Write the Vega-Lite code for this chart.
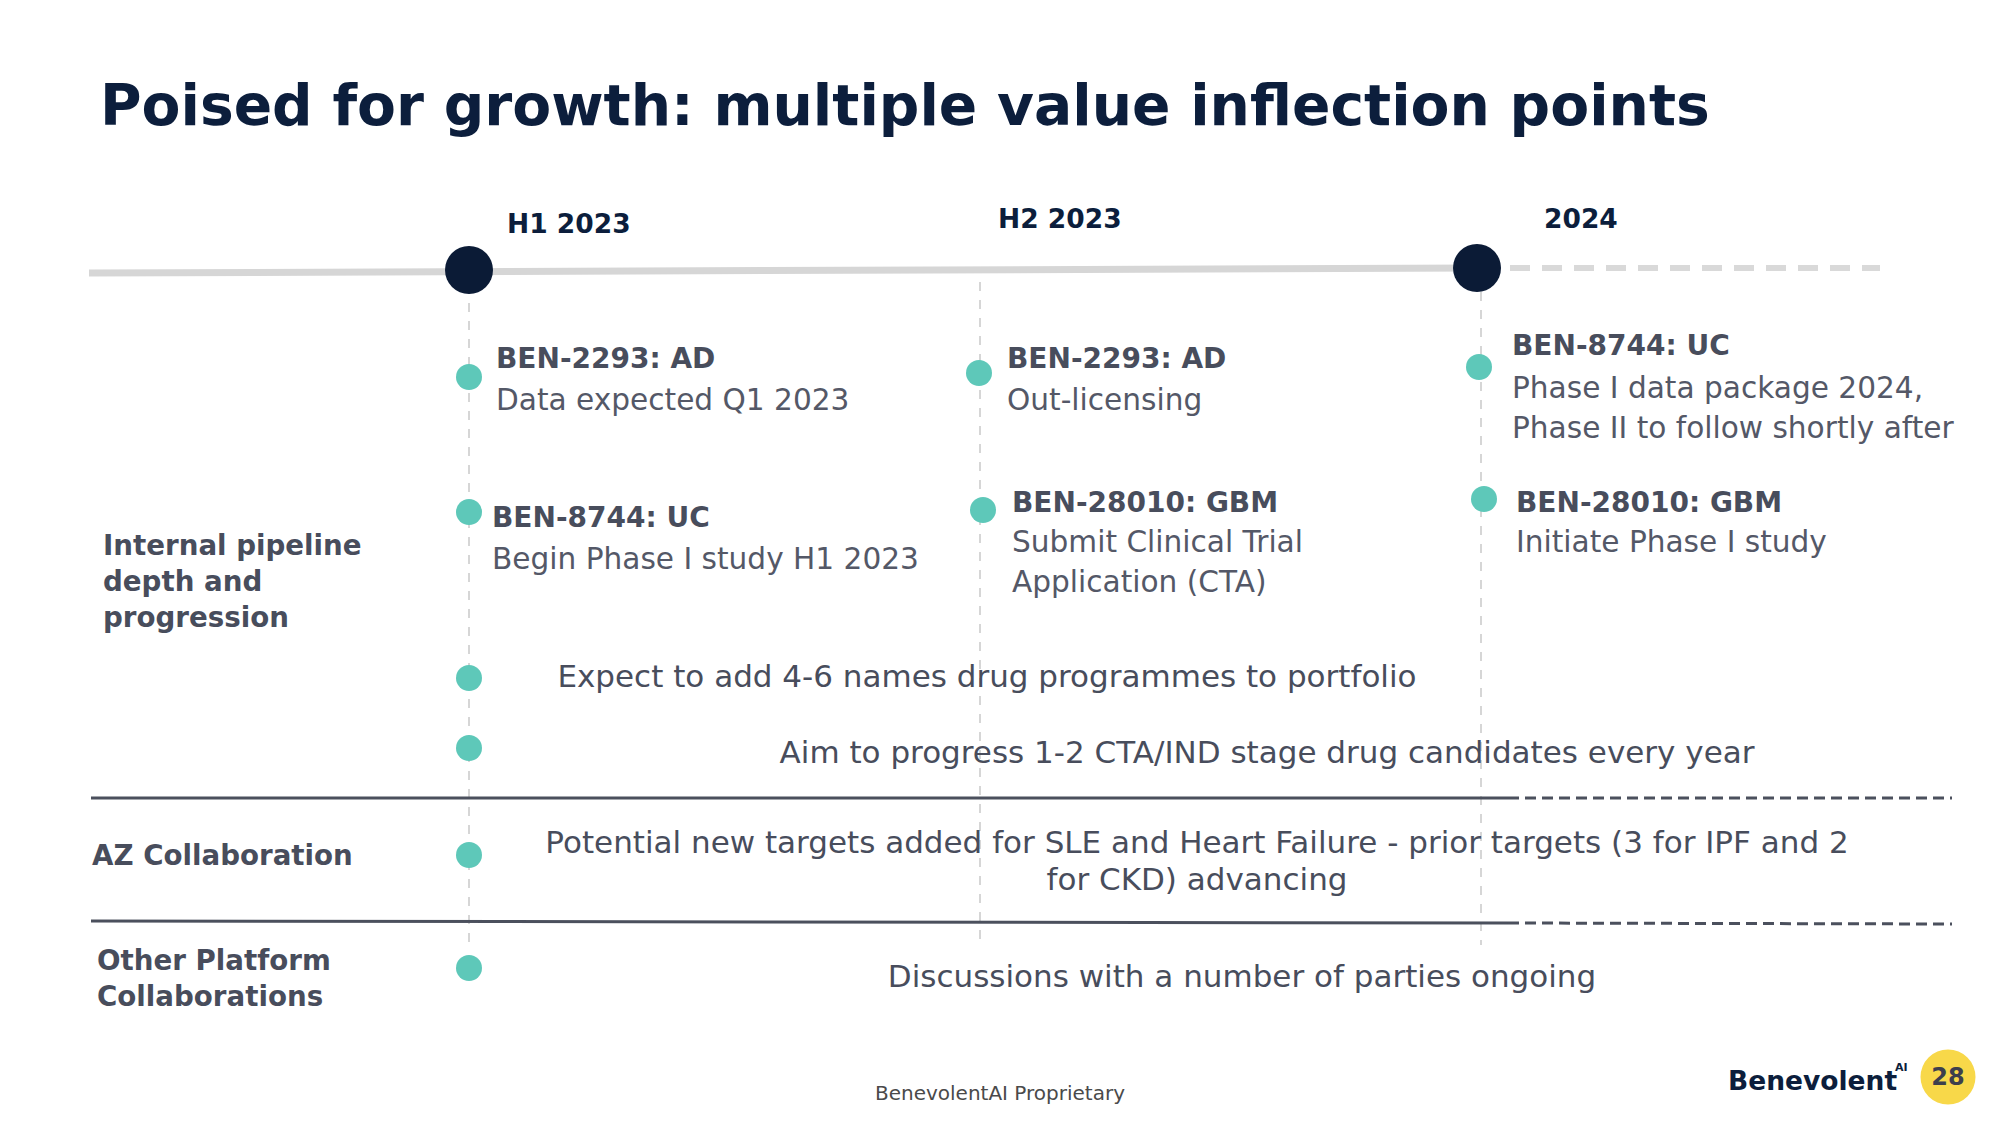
{
  "$schema": "https://vega.github.io/schema/vega-lite/v6.json",
  "width": 2000,
  "height": 1125,
  "autosize": {"type": "fit", "contains": "padding"},
  "padding": 0,
  "background": "#ffffff",
  "config": {"view": {"stroke": null}},
  "datasets": {
    "segments": [
      {"kind": "timeline", "x": 89, "y": 273, "x2": 1477, "y2": 268},
      {"kind": "timeline_future", "x": 1510, "y": 268, "x2": 1880, "y2": 268},
      {"kind": "guide", "x": 469, "y": 285, "x2": 469, "y2": 948},
      {"kind": "guide", "x": 980, "y": 282, "x2": 980, "y2": 945},
      {"kind": "guide", "x": 1481, "y": 292, "x2": 1481, "y2": 945},
      {"kind": "separator", "x": 91, "y": 798, "x2": 1508, "y2": 798},
      {"kind": "separator_future", "x": 1508, "y": 798, "x2": 1952, "y2": 798},
      {"kind": "separator", "x": 91, "y": 921, "x2": 1508, "y2": 923},
      {"kind": "separator_future", "x": 1508, "y": 923, "x2": 1952, "y2": 924}
    ],
    "milestones": [
      {"period": "H1 2023", "x": 469, "y": 270},
      {"period": "2024", "x": 1477, "y": 268}
    ],
    "dots": [
      {"item": "H1 BEN-2293", "x": 469, "y": 377},
      {"item": "H1 BEN-8744", "x": 469, "y": 512},
      {"item": "H2 BEN-2293", "x": 979, "y": 373},
      {"item": "H2 BEN-28010", "x": 983, "y": 510},
      {"item": "2024 BEN-8744", "x": 1479, "y": 367},
      {"item": "2024 BEN-28010", "x": 1484, "y": 499},
      {"item": "Portfolio", "x": 469, "y": 678},
      {"item": "CTA/IND", "x": 469, "y": 748},
      {"item": "AZ", "x": 469, "y": 855},
      {"item": "Other", "x": 469, "y": 968}
    ],
    "texts": [
      {"kind": "title", "x": 100, "y": 125, "text": "Poised for growth: multiple value inflection points"},
      {"kind": "period", "x": 507, "y": 233, "text": "H1 2023"},
      {"kind": "period", "x": 998, "y": 228, "text": "H2 2023"},
      {"kind": "period", "x": 1544, "y": 228, "text": "2024"},
      {"kind": "drug", "x": 496, "y": 368, "text": "BEN-2293: AD"},
      {"kind": "drug", "x": 492, "y": 527, "text": "BEN-8744: UC"},
      {"kind": "drug", "x": 1007, "y": 368, "text": "BEN-2293: AD"},
      {"kind": "drug", "x": 1012, "y": 512, "text": "BEN-28010: GBM"},
      {"kind": "drug", "x": 1512, "y": 355, "text": "BEN-8744: UC"},
      {"kind": "drug", "x": 1516, "y": 512, "text": "BEN-28010: GBM"},
      {"kind": "desc", "x": 496, "y": 410, "text": "Data expected Q1 2023"},
      {"kind": "desc", "x": 492, "y": 569, "text": "Begin Phase I study H1 2023"},
      {"kind": "desc", "x": 1007, "y": 410, "text": "Out-licensing"},
      {"kind": "desc", "x": 1012, "y": 552, "text": "Submit Clinical Trial\nApplication (CTA)"},
      {"kind": "desc", "x": 1512, "y": 398, "text": "Phase I data package 2024,\nPhase II to follow shortly after"},
      {"kind": "desc", "x": 1516, "y": 552, "text": "Initiate Phase I study"},
      {"kind": "row", "x": 103, "y": 555, "text": "Internal pipeline\ndepth and\nprogression"},
      {"kind": "row", "x": 92, "y": 865, "text": "AZ Collaboration"},
      {"kind": "row", "x": 97, "y": 970, "text": "Other Platform\nCollaborations"},
      {"kind": "note", "x": 987, "y": 687, "text": "Expect to add 4-6 names drug programmes to portfolio"},
      {"kind": "note", "x": 1267, "y": 763, "text": "Aim to progress 1-2 CTA/IND stage drug candidates every year"},
      {"kind": "note", "x": 1197, "y": 853, "text": "Potential new targets added for SLE and Heart Failure - prior targets (3 for IPF and 2\nfor CKD) advancing"},
      {"kind": "note", "x": 1242, "y": 987, "text": "Discussions with a number of parties ongoing"},
      {"kind": "footer", "x": 1000, "y": 1100, "text": "BenevolentAI Proprietary"},
      {"kind": "logo", "x": 1728, "y": 1090, "text": "Benevolent"},
      {"kind": "logo_sup", "x": 1895, "y": 1071, "text": "AI"},
      {"kind": "page", "x": 1948, "y": 1078, "text": "28"}
    ],
    "badge": [{"page": 28, "x": 1948, "y": 1077}]
  },
  "encoding": {
    "x": {"field": "x", "type": "quantitative", "scale": {"domain": [0, 2000], "nice": false, "zero": false}, "axis": null},
    "y": {"field": "y", "type": "quantitative", "scale": {"domain": [0, 1125], "nice": false, "zero": false, "reverse": true}, "axis": null}
  },
  "layer": [
    {
      "data": {"name": "segments"},
      "transform": [{"filter": "datum.kind == 'guide'"}],
      "mark": {"type": "rule", "color": "#c9c9c9", "strokeWidth": 1.5, "strokeDash": [9, 9]},
      "encoding": {"x2": {"field": "x2"}, "y2": {"field": "y2"}}
    },
    {
      "data": {"name": "segments"},
      "transform": [{"filter": "datum.kind == 'timeline'"}],
      "mark": {"type": "rule", "color": "#d6d6d6", "strokeWidth": 7},
      "encoding": {"x2": {"field": "x2"}, "y2": {"field": "y2"}}
    },
    {
      "data": {"name": "segments"},
      "transform": [{"filter": "datum.kind == 'timeline_future'"}],
      "mark": {"type": "rule", "color": "#d9d9d9", "strokeWidth": 6, "strokeDash": [20, 12]},
      "encoding": {"x2": {"field": "x2"}, "y2": {"field": "y2"}}
    },
    {
      "data": {"name": "segments"},
      "transform": [{"filter": "datum.kind == 'separator'"}],
      "mark": {"type": "rule", "color": "#4b505d", "strokeWidth": 3},
      "encoding": {"x2": {"field": "x2"}, "y2": {"field": "y2"}}
    },
    {
      "data": {"name": "segments"},
      "transform": [{"filter": "datum.kind == 'separator_future'"}],
      "mark": {"type": "rule", "color": "#4b505d", "strokeWidth": 3, "strokeDash": [11, 6]},
      "encoding": {"x2": {"field": "x2"}, "y2": {"field": "y2"}}
    },
    {
      "data": {"name": "milestones"},
      "mark": {"type": "point", "shape": "circle", "filled": true, "color": "#0b1b36", "opacity": 1, "size": 2304}
    },
    {
      "data": {"name": "dots"},
      "mark": {"type": "point", "shape": "circle", "filled": true, "color": "#5ec8b9", "opacity": 1, "size": 676}
    },
    {
      "data": {"name": "badge"},
      "mark": {"type": "point", "shape": "circle", "filled": true, "color": "#f8d849", "opacity": 1, "size": 3025}
    },
    {
      "data": {"name": "texts"},
      "transform": [{"filter": "datum.kind == 'title'"}],
      "mark": {"type": "text", "align": "left", "baseline": "alphabetic", "font": "DejaVu Sans", "fontWeight": "bold", "fontSize": 56.7, "color": "#0c1e3c"},
      "encoding": {"text": {"field": "text"}}
    },
    {
      "data": {"name": "texts"},
      "transform": [{"filter": "datum.kind == 'period'"}],
      "mark": {"type": "text", "align": "left", "baseline": "alphabetic", "font": "DejaVu Sans", "fontWeight": "bold", "fontSize": 26.5, "color": "#0c1e3c"},
      "encoding": {"text": {"field": "text"}}
    },
    {
      "data": {"name": "texts"},
      "transform": [{"filter": "datum.kind == 'drug'"}],
      "mark": {"type": "text", "align": "left", "baseline": "alphabetic", "font": "DejaVu Sans", "fontWeight": "bold", "fontSize": 28, "color": "#484d5c"},
      "encoding": {"text": {"field": "text"}}
    },
    {
      "data": {"name": "texts"},
      "transform": [{"filter": "datum.kind == 'desc'"}],
      "mark": {"type": "text", "align": "left", "baseline": "alphabetic", "font": "DejaVu Sans", "fontSize": 29.6, "color": "#545867", "lineBreak": "\n", "lineHeight": 40},
      "encoding": {"text": {"field": "text"}}
    },
    {
      "data": {"name": "texts"},
      "transform": [{"filter": "datum.kind == 'row'"}],
      "mark": {"type": "text", "align": "left", "baseline": "alphabetic", "font": "DejaVu Sans", "fontWeight": 600, "fontSize": 27.7, "color": "#484d5c", "lineBreak": "\n", "lineHeight": 36},
      "encoding": {"text": {"field": "text"}}
    },
    {
      "data": {"name": "texts"},
      "transform": [{"filter": "datum.kind == 'note'"}],
      "mark": {"type": "text", "align": "center", "baseline": "alphabetic", "font": "DejaVu Sans", "fontSize": 31, "color": "#484d5c", "lineBreak": "\n", "lineHeight": 37},
      "encoding": {"text": {"field": "text"}}
    },
    {
      "data": {"name": "texts"},
      "transform": [{"filter": "datum.kind == 'footer'"}],
      "mark": {"type": "text", "align": "center", "baseline": "alphabetic", "font": "DejaVu Sans", "fontSize": 20, "color": "#4a4a4a"},
      "encoding": {"text": {"field": "text"}}
    },
    {
      "data": {"name": "texts"},
      "transform": [{"filter": "datum.kind == 'logo'"}],
      "mark": {"type": "text", "align": "left", "baseline": "alphabetic", "font": "DejaVu Sans", "fontWeight": "bold", "fontSize": 26.5, "color": "#0c1e3c"},
      "encoding": {"text": {"field": "text"}}
    },
    {
      "data": {"name": "texts"},
      "transform": [{"filter": "datum.kind == 'logo_sup'"}],
      "mark": {"type": "text", "align": "left", "baseline": "alphabetic", "font": "DejaVu Sans", "fontWeight": "bold", "fontSize": 11, "color": "#0c1e3c"},
      "encoding": {"text": {"field": "text"}}
    },
    {
      "data": {"name": "texts"},
      "transform": [{"filter": "datum.kind == 'page'"}],
      "mark": {"type": "text", "align": "center", "baseline": "middle", "font": "DejaVu Sans", "fontWeight": "bold", "fontSize": 24, "color": "#3d3f4d"},
      "encoding": {"text": {"field": "text"}}
    }
  ]
}
